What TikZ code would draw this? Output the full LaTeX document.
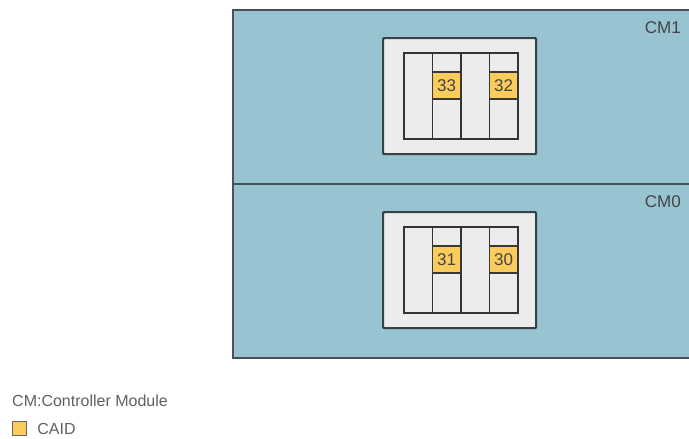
\documentclass[tikz,border=0pt]{standalone}
\usepackage{fontspec}
\setmainfont{Liberation Sans}
\usetikzlibrary{positioning}
\definecolor{cModule}{RGB}{151,196,208}
\definecolor{cEdge}{RGB}{70,82,88}
\definecolor{cFrame}{RGB}{236,236,236}
\definecolor{cCaid}{RGB}{250,204,92}
\definecolor{cText}{RGB}{68,68,68}
\tikzset{
    module/.style ={rectangle, anchor=north west, inner sep=0pt, minimum width=480pt, minimum height=174pt, draw=cEdge, line width=2.2pt, fill=cModule},
    frame/.style  ={rectangle, anchor=north west, inner sep=0pt, minimum width=153pt, minimum height=116pt, draw=cEdge!80!black, line width=2.2pt, fill=cFrame, rounded corners=1pt},
    slot/.style   ={rectangle, anchor=north west, inner sep=0pt, minimum width=28.5pt, minimum height=86pt, draw=black!80, line width=1.6pt, fill=cFrame},
    caid/.style   ={rectangle, anchor=north west, inner sep=0pt, minimum width=28.5pt, minimum height=27pt, draw=black!78, line width=1.5pt, fill=cCaid, text=cText, font=\fontsize{17}{17}\selectfont},
    cmlabel/.style={anchor=north east, inner sep=0pt, text=cText, font=\fontsize{17}{17}\selectfont},
    legend/.style ={inner sep=0pt, text=cText!85, font=\fontsize{16}{16}\selectfont},
}
\begin{document}
\begin{tikzpicture}[x=1pt, y=-1pt]
    \useasboundingbox (0,0) rectangle (689,439);
    \begin{scope}
        \clip (0,0) rectangle (689,439);
        % controller modules
        \foreach \cm/\yy/\ca/\cb in {1/9/33/32, 0/183/31/30}{
            \node[module] (cm\cm) at (232,\yy) {};
            \node[cmlabel] (lab\cm) at (681,\yy+12) {CM\cm};
            \node[frame] (frame\cm) at (382,\yy+28) {};
            \foreach \s in {1,...,4}
                \node[slot] (slot\cm\s) at ({403+28.5*(\s-1)},\yy+43) {};
            \node[caid] (caid\cm a) at (431.5,\yy+62) {\ca};
            \node[caid] (caid\cm b) at (488.5,\yy+62) {\cb};
        }
    \end{scope}
    % legend
    \node[legend, anchor=base west] (legtitle) at (12,406) {CM:Controller Module};
    \node[caid, minimum width=14pt, minimum height=14pt, line width=1.2pt, draw=black!60] (key) at (12,421) {};
    \node[legend, right=10pt of key] (keytext) {CAID};
\end{tikzpicture}
\end{document}
